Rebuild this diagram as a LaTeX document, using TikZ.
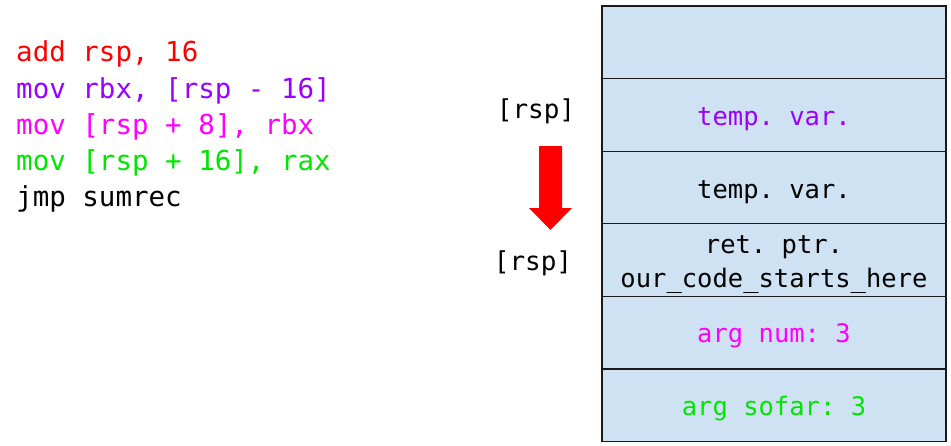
\documentclass[tikz,border=0pt]{standalone}
\usepackage{fontspec}
\setmonofont{DejaVu Sans Mono}
\definecolor{cred}{HTML}{FF0000}
\definecolor{cpurple}{HTML}{9900FF}
\definecolor{cmag}{HTML}{FF00FF}
\definecolor{cgreen}{HTML}{00E600}
\definecolor{cellfill}{HTML}{CFE2F3}
\begin{document}
\begin{tikzpicture}[x=1pt,y=-1pt,
  codeline/.style={anchor=base west,inner sep=0pt,font=\ttfamily\fontsize{27.5}{33}\selectfont},
  celltext/.style={anchor=base,inner sep=0pt,font=\ttfamily\fontsize{25.5}{33}\selectfont},
  cell/.style={fill=cellfill,minimum width=344pt,minimum height=72.6pt,inner sep=0pt,outer sep=0pt},
  cellborder/.style={draw=black!90,line width=1.3pt},
  rsplabel/.style={anchor=base,inner sep=0pt,font=\ttfamily\fontsize{26}{33}\selectfont}]
\useasboundingbox (0,0) rectangle (951,445);
% code
\node[codeline,text=cred]    (c1) at (16,61)  {add rsp, 16};
\node[codeline,text=cpurple] (c2) at (16,98)  {mov rbx, [rsp - 16]};
\node[codeline,text=cmag]    (c3) at (16,134) {mov [rsp + 8], rbx};
\node[codeline,text=cgreen]  (c4) at (16,170) {mov [rsp + 16], rax};
\node[codeline,text=black]   (c5) at (16,206) {jmp sumrec};
% stack cells
\foreach \i in {1,...,6}{
  \node[cell] (r\i) at (774,{6+72.6*(\i-0.5)}) {};
}
\foreach \i in {1,...,6}{
  \draw[cellborder] (r\i.north west) rectangle (r\i.south east);
}
\node[celltext,text=cpurple] (t2) at (774,125) {temp. var.};
\node[celltext] (t3) at (774,198) {temp. var.};
\node[celltext] (t4a) at (774,253) {ret. ptr.};
\node[celltext] (t4b) at (774,287) {our\_code\_starts\_here};
\node[celltext,text=cmag] (t5) at (774,342) {arg num: 3};
\node[celltext,text=cgreen] (t6) at (774,415) {arg sofar: 3};
% rsp labels
\node[rsplabel] (s1) at (536,118) {[rsp]};
\node[rsplabel] (s2) at (533,270) {[rsp]};
% arrow
\fill[cred] (539,146) -- (562,146) -- (562,208) -- (572,208) -- (550.5,230) -- (529,208) -- (539,208) -- cycle;
\end{tikzpicture}
\end{document}
